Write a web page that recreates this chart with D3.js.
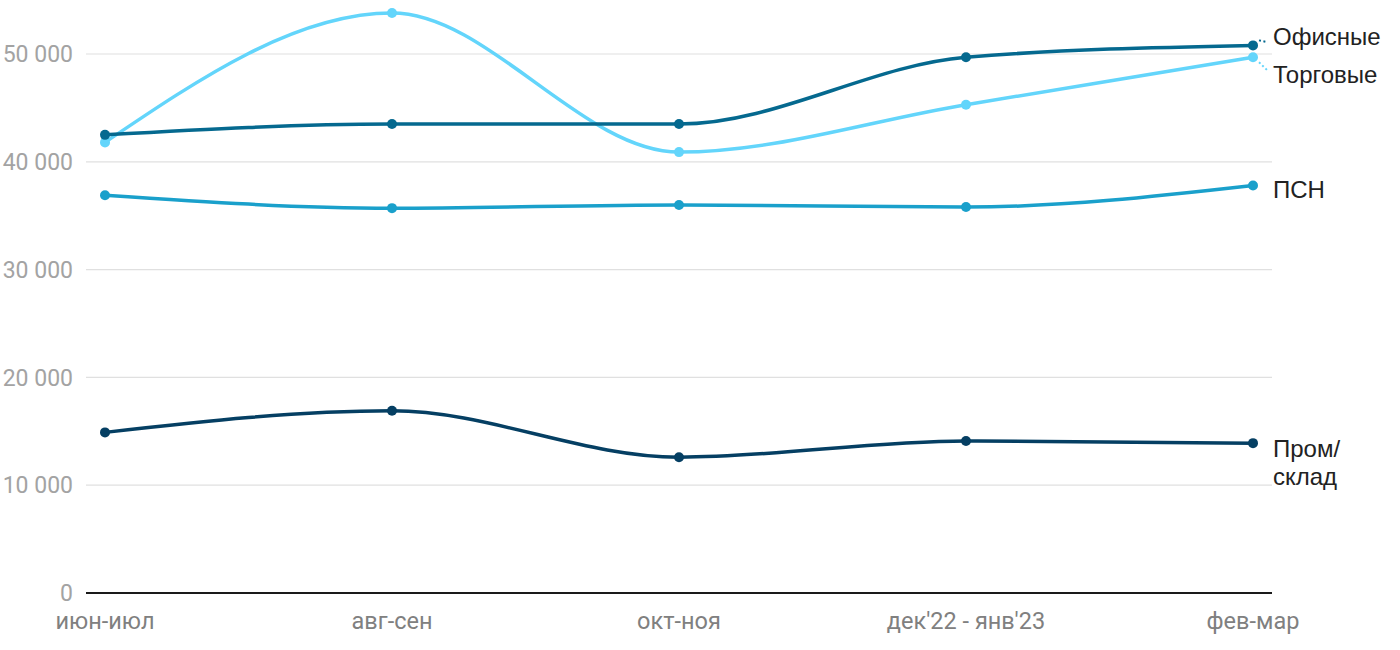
<!DOCTYPE html>
<html><head><meta charset="utf-8">
<script src="https://cdn.jsdelivr.net/npm/d3@7"></script>
<style>
body{margin:0;background:#fff;}
svg{display:block;}
</style></head>
<body><svg id="c" width="1400" height="650"></svg>
<script>
const categories = ["июн-июл","авг-сен","окт-ноя","дек'22 - янв'23","фев-мар"];
const officeValues = [42500, 43500, 43500, 49700, 50800];
const retailValues = [41800, 53800, 40900, 45300, 49700];
const psnValues = [36900, 35700, 36000, 35800, 37800];
const industrialValues = [14900, 16900, 12600, 14100, 13900];
const yTicks = [0, 10000, 20000, 30000, 40000, 50000];
const seriesNames = ["Офисные","Торговые","ПСН","Пром/склад"];

const series = [
  {name: seriesNames[3], values: industrialValues, color: "#053f63", label:["Пром/","склад"], ly: 449},
  {name: seriesNames[2], values: psnValues, color: "#1aa0cb", label:["ПСН"], ly: 190},
  {name: seriesNames[1], values: retailValues, color: "#63d5fb", label:["Торговые"], ly: 75, leader:true},
  {name: seriesNames[0], values: officeValues, color: "#05698f", label:["Офисные"], ly: 37, leader:true}
];

const svg = d3.select("#c");
const x = d3.scalePoint().domain(categories).range([105, 1253]);
const y = d3.scaleLinear().domain([0, 50000]).range([593, 54]);
const gridL = 86, gridR = 1272;

const fmt = v => d3.format(",")(v).replace(/,/g, " ");

// gridlines
svg.append("g").selectAll("line").data(yTicks.filter(d => d > 0)).join("line")
  .attr("x1", gridL).attr("x2", gridR)
  .attr("y1", d => y(d)).attr("y2", d => y(d))
  .attr("stroke", "#e0e0e0").attr("stroke-width", 1.2);

// y tick labels
svg.append("g").selectAll("text").data(yTicks).join("text")
  .attr("x", 73).attr("y", d => y(d)).attr("dy", "0.36em")
  .attr("text-anchor", "end")
  .attr("font-family", "Roboto, sans-serif").attr("font-size", 23)
  .attr("fill", "#a3a3a3")
  .text(fmt);

// baseline
svg.append("line").attr("x1", gridL).attr("x2", gridR)
  .attr("y1", y(0)).attr("y2", y(0)).attr("stroke", "#1a1a1a").attr("stroke-width", 2);

// x labels
svg.append("g").selectAll("text").data(categories).join("text")
  .attr("x", d => x(d)).attr("y", 621).attr("dy", "0.35em")
  .attr("text-anchor", "middle")
  .attr("font-family", "Roboto, sans-serif").attr("font-size", 23.5)
  .attr("fill", "#808080")
  .text(d => d);

const line = d3.line().x((d, i) => x(categories[i])).y(d => y(d)).curve(d3.curveMonotoneX);

series.forEach(s => {
  const g = svg.append("g");
  g.append("path").attr("d", line(s.values)).attr("fill", "none")
    .attr("stroke", s.color).attr("stroke-width", 3.5).attr("stroke-linecap", "round");
  g.selectAll("circle").data(s.values).join("circle")
    .attr("cx", (d, i) => x(categories[i])).attr("cy", d => y(d)).attr("r", 5)
    .attr("fill", s.color);
  const last = s.values[s.values.length - 1];
  const lx = 1273;
  if (s.leader) {
    const py = y(last);
    const ty = s.ly;
    const dir = ty < py ? -1 : 1;
    g.append("line").attr("x1", x(categories[4]) + 6).attr("y1", py + dir * 5)
      .attr("x2", lx - 6).attr("y2", ty - dir * 5)
      .attr("stroke", s.color).attr("stroke-width", 2).attr("stroke-dasharray", "2,2.5");
  }
  const t = g.append("text").attr("font-family", "'Liberation Sans', Arial, sans-serif")
    .attr("font-size", 24).attr("fill", "#222");
  s.label.forEach((l, i) => {
    t.append("tspan").attr("x", lx).attr("y", s.ly + i * 28).attr("dy", "0.35em").text(l);
  });
});
</script></body></html>
